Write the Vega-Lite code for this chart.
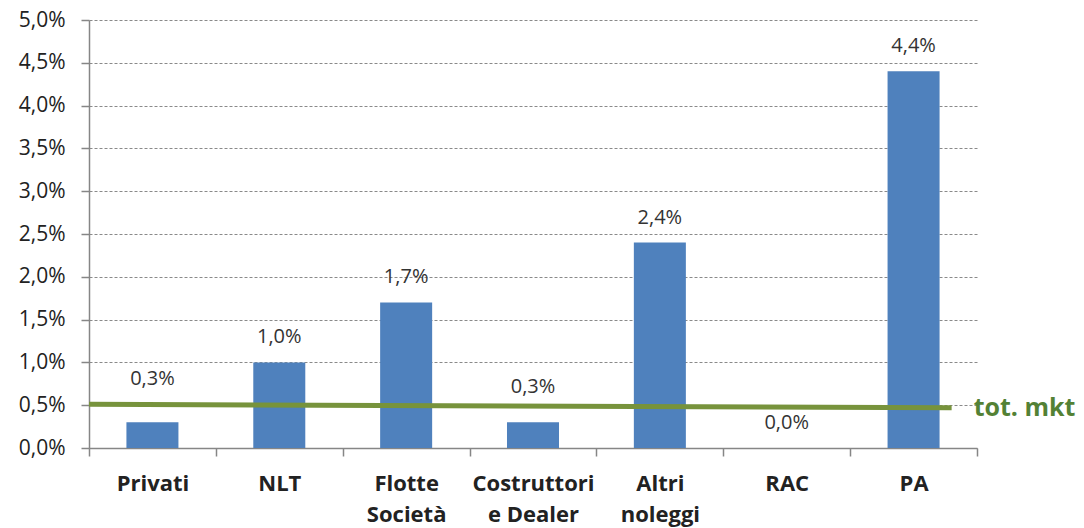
{
  "$schema": "https://vega.github.io/schema/vega-lite/v6.json",
  "width": 888,
  "height": 428,
  "autosize": "none",
  "padding": {"left": 89, "top": 20, "right": 107, "bottom": 80},
  "background": "#ffffff",
  "config": {
    "locale": {"number": {"decimal": ",", "thousands": ".", "grouping": [3], "currency": ["€", ""]}},
    "view": {"stroke": null},
    "font": "Open Sans"
  },
  "layer": [
    {
      "data": {"values": [
        {"segmento": "Privati", "quota": 0.003},
        {"segmento": "NLT", "quota": 0.010},
        {"segmento": "Flotte Società", "quota": 0.017},
        {"segmento": "Costruttori e Dealer", "quota": 0.003},
        {"segmento": "Altri noleggi", "quota": 0.024},
        {"segmento": "RAC", "quota": 0.000},
        {"segmento": "PA", "quota": 0.044}
      ]},
      "encoding": {
        "x": {
          "field": "segmento", "type": "nominal", "sort": null,
          "scale": {"paddingInner": 0, "paddingOuter": 0},
          "axis": {
            "title": null, "labelAngle": 0, "labelFontSize": 22, "labelFontWeight": "bold",
            "labelColor": "#222222", "tickBand": "extent", "tickSize": 8,
            "domainColor": "#868686", "tickColor": "#868686", "domainWidth": 1.5, "tickWidth": 1.5,
            "labelPadding": 17, "labelLineHeight": 31,
            "labelExpr": "datum.value == 'Flotte Società' ? ['Flotte','Società'] : datum.value == 'Costruttori e Dealer' ? ['Costruttori','e Dealer'] : datum.value == 'Altri noleggi' ? ['Altri','noleggi'] : datum.value"
          }
        },
        "y": {
          "field": "quota", "type": "quantitative",
          "scale": {"domain": [0, 0.05], "nice": false},
          "axis": {
            "title": null, "format": ".1%",
            "values": [0, 0.005, 0.01, 0.015, 0.02, 0.025, 0.03, 0.035, 0.04, 0.045, 0.05],
            "grid": true, "gridDash": [3, 2], "gridColor": "#8a8a8a", "gridWidth": 1,
            "domainColor": "#868686", "tickColor": "#868686", "domainWidth": 1.5, "tickWidth": 1.5,
            "tickSize": 8, "labelFontSize": 21, "labelPadding": 16, "labelColor": "#222222"
          }
        }
      },
      "layer": [
        {"mark": {"type": "bar", "width": {"band": 0.41}, "color": "#4f81bd"}},
        {
          "transform": [{"filter": "datum.segmento != 'Privati' && datum.segmento != 'Costruttori e Dealer'"}],
          "mark": {"type": "text", "dy": -19, "baseline": "alphabetic", "fontSize": 20, "color": "#333333"},
          "encoding": {"text": {"field": "quota", "type": "quantitative", "format": ".1%"}}
        },
        {
          "transform": [{"filter": "datum.segmento == 'Privati'"}],
          "mark": {"type": "text", "dy": -37, "baseline": "alphabetic", "fontSize": 20, "color": "#333333"},
          "encoding": {"text": {"field": "quota", "type": "quantitative", "format": ".1%"}}
        },
        {
          "transform": [{"filter": "datum.segmento == 'Costruttori e Dealer'"}],
          "mark": {"type": "text", "dy": -29, "baseline": "alphabetic", "fontSize": 20, "color": "#333333"},
          "encoding": {"text": {"field": "quota", "type": "quantitative", "format": ".1%"}}
        }
      ]
    },
    {
      "data": {"values": [
        {"pos": 0, "quota": 0.0051},
        {"pos": 6.8, "quota": 0.0047}
      ]},
      "mark": {"type": "line", "color": "#77933c", "strokeWidth": 5},
      "encoding": {
        "x": {"field": "pos", "type": "quantitative", "scale": {"domain": [0, 7]}, "axis": null},
        "y": {"field": "quota", "type": "quantitative", "scale": {"domain": [0, 0.05], "nice": false}, "title": null}
      }
    },
    {
      "data": {"values": [
        {"pos": 6.8, "quota": 0.0047, "etichetta": "tot. mkt"}
      ]},
      "mark": {"type": "text", "align": "left", "baseline": "middle", "dx": 22, "fontSize": 25, "fontWeight": "bold", "color": "#538135", "clip": false},
      "encoding": {
        "x": {"field": "pos", "type": "quantitative", "scale": {"domain": [0, 7]}, "axis": null},
        "y": {"field": "quota", "type": "quantitative", "scale": {"domain": [0, 0.05], "nice": false}, "title": null},
        "text": {"field": "etichetta"}
      }
    }
  ],
  "resolve": {"scale": {"x": "independent"}}
}
